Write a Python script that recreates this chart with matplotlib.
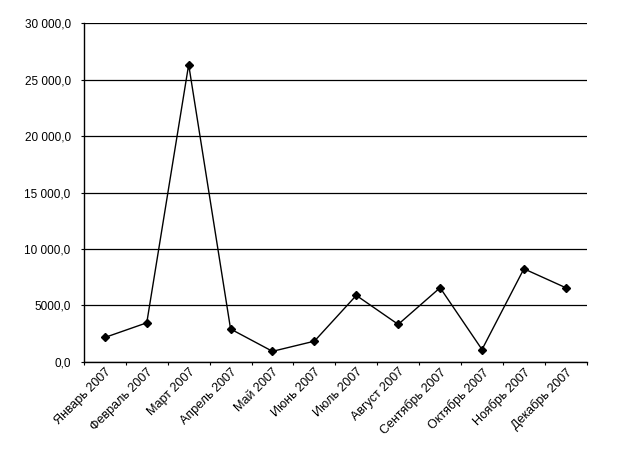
import matplotlib
matplotlib.use('Agg')
import matplotlib.pyplot as plt
from matplotlib.ticker import FuncFormatter, MultipleLocator
import numpy as np

# месяцы и значения
months = ['Январь 2007', 'Февраль 2007', 'Март 2007', 'Апрель 2007', 'Май 2007',
          'Июнь 2007', 'Июль 2007', 'Август 2007', 'Сентябрь 2007',
          'Октябрь 2007', 'Ноябрь 2007', 'Декабрь 2007']
values = [2150, 3450, 26350, 2900, 920, 1820, 5880, 3310, 6560, 1080, 8240, 6560]

plt.rcParams['font.family'] = ['Liberation Sans', 'DejaVu Sans']

fig = plt.figure(figsize=(6.17, 4.51), dpi=100)
ax = fig.add_axes([0.136, 0.198, 0.815, 0.750])

x = np.arange(len(months))
ax.plot(x, values, color='black', lw=1, marker='D', ms=4.5, mfc='black', mec='black')

def fmt(v, pos):
    s = '{:.1f}'.format(v).replace('.', ',')
    ip, dp = s.split(',')
    if len(ip) > 4:
        ip = ip[:-3] + ' ' + ip[-3:]
    return ip + ',' + dp

ax.set_ylim(0, 30000)
ax.yaxis.set_major_locator(MultipleLocator(5000))
ax.yaxis.set_major_formatter(FuncFormatter(fmt))
ax.grid(axis='y', color='black', lw=0.9)
ax.set_axisbelow(True)

ax.set_xlim(-0.5, len(months) - 0.5)
ax.set_xticks(np.arange(-0.5, len(months)), minor=False)
ax.set_xticklabels([])
ax.set_xticks(x, minor=True)
ax.set_xticklabels(months, minor=True, rotation=45, ha='right', rotation_mode='anchor')
ax.tick_params(axis='x', which='minor', length=0, pad=3, labelsize=9)
ax.tick_params(axis='x', which='major', length=2.5, direction='out', color='black')
ax.tick_params(axis='y', length=2.5, direction='out', labelsize=8.5, pad=7)

for s in ['top', 'right']:
    ax.spines[s].set_visible(False)
ax.spines['left'].set_linewidth(1)
ax.spines['bottom'].set_linewidth(1)

plt.savefig('out.png', dpi=100)
